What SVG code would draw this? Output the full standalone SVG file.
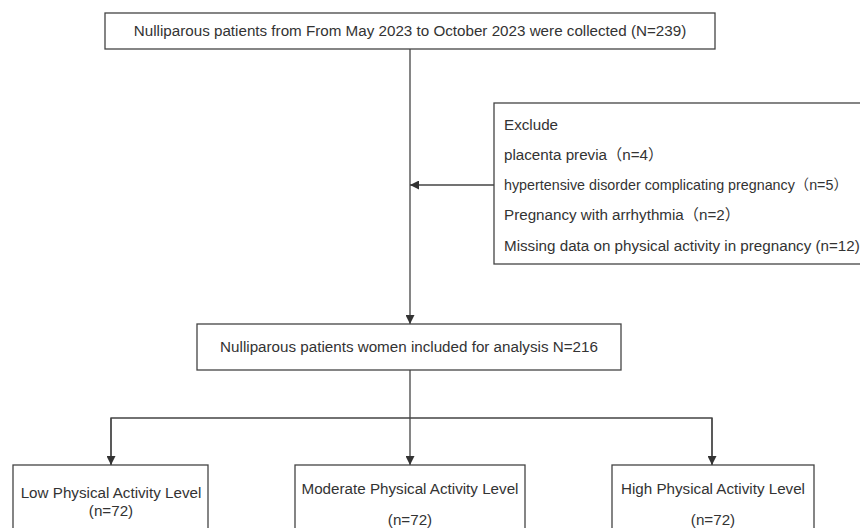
<svg xmlns="http://www.w3.org/2000/svg" width="860" height="528" viewBox="0 0 860 528">
<defs>
<marker id="ah" viewBox="0 0 10 10" refX="10" refY="5" markerWidth="9" markerHeight="9" markerUnits="userSpaceOnUse" orient="auto">
<path d="M0,0 L10,5 L0,10 Z" fill="#333"/>
</marker>
<style>
.box{fill:#fff;stroke:#444;stroke-width:1.3}
.t{font-family:"Liberation Sans",Arial,"Noto Sans CJK SC",sans-serif;font-size:15.2px;fill:#333}
.c{text-anchor:middle}
.ln{fill:none;stroke:#444;stroke-width:1.3}
</style>
</defs>
<rect width="860" height="528" fill="#fff"/>
<g id="connectors">
<line class="ln" x1="410" y1="49" x2="410" y2="324" marker-end="url(#ah)"/>
<line class="ln" x1="494" y1="185" x2="410" y2="185" marker-end="url(#ah)"/>
<line class="ln" x1="410" y1="370" x2="410" y2="465" marker-end="url(#ah)"/>
<polyline class="ln" points="111,465 111,418 712,418 712,465"/>
<line class="ln" x1="111" y1="418" x2="111" y2="465" marker-end="url(#ah)"/>
<line class="ln" x1="712" y1="418" x2="712" y2="465" marker-end="url(#ah)"/>
</g>
<g id="collected">
<rect class="box" x="105" y="13" width="610" height="36"/>
<text class="t c" x="410" y="36">Nulliparous patients from From May 2023 to October 2023 were collected (N=239)</text>
</g>
<g id="exclude">
<rect class="box" x="494" y="103" width="380" height="161"/>
<text class="t" x="504" y="130">Exclude</text>
<text class="t" x="504" y="160">placenta previa（n=4）</text>
<text class="t" x="504" y="190" style="font-size:14.3px">hypertensive disorder complicating pregnancy（n=5）</text>
<text class="t" x="504" y="220">Pregnancy with arrhythmia（n=2）</text>
<text class="t" x="504" y="251">Missing data on physical activity in pregnancy (n=12)</text>
</g>
<g id="included">
<rect class="box" x="197" y="324" width="424" height="46"/>
<text class="t c" x="409" y="352">Nulliparous patients women included for analysis N=216</text>
</g>
<g id="low">
<rect class="box" x="13" y="465" width="195" height="80"/>
<text class="t c" x="111" y="498">Low Physical Activity Level</text>
<text class="t c" x="111" y="516">(n=72)</text>
</g>
<g id="moderate">
<rect class="box" x="295" y="465" width="230" height="80"/>
<text class="t c" x="410" y="494">Moderate Physical Activity Level</text>
<text class="t c" x="410" y="525">(n=72)</text>
</g>
<g id="high">
<rect class="box" x="612" y="465" width="202" height="80"/>
<text class="t c" x="713" y="494">High Physical Activity Level</text>
<text class="t c" x="713" y="525">(n=72)</text>
</g>
</svg>
